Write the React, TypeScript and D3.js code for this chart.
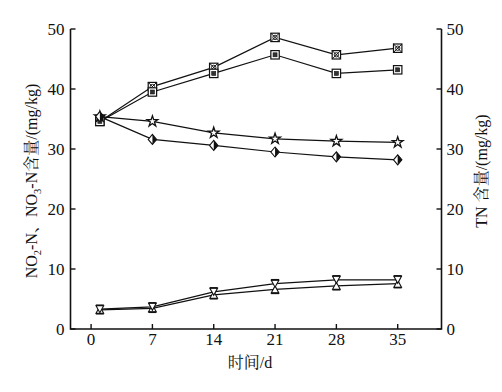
import React from "react";
import * as d3 from "d3";

const days = [1, 7, 14, 21, 28, 35];
const xTicks = [0, 7, 14, 21, 28, 35];
const yTicks = [0, 10, 20, 30, 40, 50];

// TN series (right axis)
const tnA = [34.6, 40.4, 43.6, 48.6, 45.7, 46.8];
const tnB = [34.6, 39.5, 42.6, 45.7, 42.6, 43.2];
// NO3-N series (left axis)
const no3Star = [35.4, 34.6, 32.7, 31.7, 31.3, 31.1];
const no3Diamond = [35.4, 31.6, 30.6, 29.5, 28.7, 28.2];
// NO2-N series (left axis)
const no2Down = [3.3, 3.7, 6.2, 7.55, 8.2, 8.2];
const no2Up = [3.2, 3.45, 5.7, 6.6, 7.2, 7.55];

const W = 502, H = 392;
const L = 70.5, R = 441.5, T = 29, B = 329;
const latin = "'Liberation Serif', 'Times New Roman', serif";
const cjk = "'Liberation Serif', 'Noto Serif CJK SC', 'Noto Sans CJK SC', serif";
const ink = "#111";

export default function App() {
  const x = d3.scaleLinear().domain([-2.35, 40]).range([L, R]);
  const y = d3.scaleLinear().domain([0, 50]).range([B, T]);
  const line = d3.line<number>().x((_, i) => x(days[i])).y((v) => y(v));

  const s = 4.2;
  const marker = (kind: string, cx: number, cy: number, key: string) => {
    switch (kind) {
      case "sqx":
        return (
          <g key={key} transform={`translate(${cx},${cy})`}>
            <rect x={-s} y={-s} width={2 * s} height={2 * s} fill="white" stroke={ink} strokeWidth={1.2} />
            <path d={`M${-s},${-s}L${s},${s}M${s},${-s}L${-s},${s}`} stroke={ink} strokeWidth={1} />
            <circle r={2.2} fill="none" stroke={ink} strokeWidth={0.9} />
          </g>
        );
      case "sqs":
        return (
          <g key={key} transform={`translate(${cx},${cy})`}>
            <rect x={-s} y={-s} width={2 * s} height={2 * s} fill="white" stroke={ink} strokeWidth={1.2} />
            <rect x={-2} y={-2} width={4} height={4} fill="#333" stroke={ink} strokeWidth={0.6} />
          </g>
        );
      case "star":
        return (
          <path key={key} transform={`translate(${cx},${cy})`} d={d3.symbol(d3.symbolStar, 36)() as string}
            fill="white" stroke={ink} strokeWidth={1.3} />
        );
      case "diamond":
        return (
          <g key={key} transform={`translate(${cx},${cy})`}>
            <path d={`M0,${-5}L4.2,0L0,5L-4.2,0Z`} fill="white" stroke={ink} strokeWidth={1.1} />
            <path d={`M0,${-5}L4.2,0L0,5Z`} fill={ink} />
          </g>
        );
      case "down":
        return (
          <g key={key} transform={`translate(${cx},${cy})`}>
            <path d={`M-3.8,-3.5L3.8,-3.5L0,3.5Z`} fill="white" stroke={ink} strokeWidth={1.1} />
            <path d={`M-4,-4L4,-4`} stroke={ink} strokeWidth={1.5} />
          </g>
        );
      case "up":
      default:
        return (
          <g key={key} transform={`translate(${cx},${cy})`}>
            <path d={`M-3.8,3.5L3.8,3.5L0,-3.5Z`} fill="white" stroke={ink} strokeWidth={1.1} />
            <path d={`M-4,4L4,4`} stroke={ink} strokeWidth={1.5} />
          </g>
        );
    }
  };

  const series: [number[], string][] = [
    [tnA, "sqx"],
    [tnB, "sqs"],
    [no3Star, "star"],
    [no3Diamond, "diamond"],
    [no2Up, "up"],
    [no2Down, "down"],
  ];

  return (
    <svg width={W} height={H} style={{ position: "absolute", left: 0, top: 0, background: "white" }}>
      <rect width={W} height={H} fill="white" />
      {series.map(([vals], i) => (
        <path key={"l" + i} d={line(vals) as string} fill="none" stroke={ink} strokeWidth={1.2} />
      ))}
      {series.map(([vals, kind], i) => vals.map((v, j) => marker(kind, x(days[j]), y(v), `m${i}-${j}`)))}
      <path d={`M${L},${T}L${L},${B}L${R},${B}L${R},${T}`} fill="none" stroke={ink} strokeWidth={1.6} />
      {yTicks.map((t) => (
        <g key={"yt" + t}>
          <line x1={L} x2={L + 5} y1={y(t)} y2={y(t)} stroke={ink} strokeWidth={1.4} />
          <line x1={R} x2={R - 5} y1={y(t)} y2={y(t)} stroke={ink} strokeWidth={1.4} />
          <text x={L - 6} y={y(t)} dy="0.35em" textAnchor="end" fontFamily={latin} fontSize={17} fill={ink}>{t}</text>
          <text x={R + 5} y={y(t)} dy="0.35em" textAnchor="start" fontFamily={latin} fontSize={17} fill={ink}>{t}</text>
        </g>
      ))}
      {xTicks.map((t) => (
        <g key={"xt" + t}>
          <line x1={x(t)} x2={x(t)} y1={B} y2={B - 5} stroke={ink} strokeWidth={1.4} />
          <text x={x(t)} y={B + 16} textAnchor="middle" fontFamily={latin} fontSize={17} fill={ink}>{t}</text>
        </g>
      ))}
      <text x={250} y={368} textAnchor="middle" fontFamily={cjk} fontSize={16} fill={ink}>时间/d</text>
      <text transform={`translate(31,${181}) rotate(-90)`} textAnchor="middle" dy="0.35em" fontFamily={cjk} fontSize={16} fill={ink}>
        NO<tspan fontSize={10.5} dy="4">2</tspan><tspan dy="-4">-N、NO</tspan><tspan fontSize={10.5} dy="4">3</tspan><tspan dy="-4">-N含量/(mg/kg)</tspan>
      </text>
      <text transform={`translate(481,${171}) rotate(-90)`} textAnchor="middle" dy="0.35em" fontFamily={cjk} fontSize={16} fill={ink}>
        TN 含量/(mg/kg)
      </text>
    </svg>
  );
}
